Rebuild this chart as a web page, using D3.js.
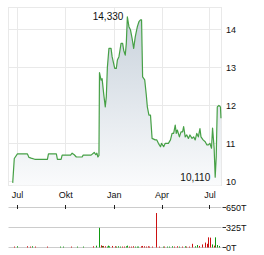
<!DOCTYPE html>
<html><head><meta charset="utf-8">
<script src="https://cdn.jsdelivr.net/npm/d3@7"></script>
<style>
body{margin:0;background:#fff}
svg{display:block}
text{font-family:"Liberation Sans",Arial,sans-serif;fill:#111}
</style></head>
<body><svg id="c" width="264" height="255"></svg>
<script>
const priceDates = ["2023-06-22","2023-06-25","2023-07-01","2023-07-20","2023-07-23","2023-07-27","2023-08-03","2023-08-27","2023-08-29","2023-09-13","2023-09-15","2023-09-22","2023-09-24","2023-10-10","2023-10-13","2023-10-17","2023-10-21","2023-11-01","2023-11-03","2023-11-18","2023-11-24","2023-11-27","2023-11-29","2023-12-01","2023-12-03","2023-12-04","2023-12-07","2023-12-09","2023-12-12","2023-12-15","2023-12-17","2023-12-19","2023-12-22","2023-12-26","2023-12-28","2024-01-02","2024-01-05","2024-01-07","2024-01-10","2024-01-12","2024-01-14","2024-01-17","2024-01-19","2024-01-22","2024-01-24","2024-01-26","2024-01-29","2024-02-01","2024-02-04","2024-02-07","2024-02-10","2024-02-14","2024-02-17","2024-02-20","2024-02-22","2024-02-24","2024-02-28","2024-03-02","2024-03-04","2024-03-07","2024-03-10","2024-03-13","2024-03-19","2024-03-22","2024-03-25","2024-03-29","2024-03-31","2024-04-04","2024-04-07","2024-04-13","2024-04-17","2024-04-20","2024-04-23","2024-04-26","2024-04-28","2024-04-30","2024-05-04","2024-05-07","2024-05-10","2024-05-12","2024-05-15","2024-05-18","2024-05-21","2024-05-24","2024-05-28","2024-05-31","2024-06-03","2024-06-06","2024-06-09","2024-06-12","2024-06-14","2024-06-18","2024-06-22","2024-06-25","2024-06-28","2024-07-01","2024-07-04","2024-07-06","2024-07-09","2024-07-11","2024-07-13","2024-07-14","2024-07-15","2024-07-18","2024-07-21","2024-07-22"];
const priceValues = [9.96,10.60,10.72,10.72,10.63,10.61,10.58,10.58,10.72,10.72,10.58,10.58,10.69,10.69,10.74,10.70,10.64,10.64,10.69,10.69,10.76,10.70,10.74,10.64,10.68,12.86,12.66,12.70,12.30,11.96,12.23,13.00,13.50,13.50,13.28,12.97,12.97,13.19,13.28,13.45,13.63,13.63,13.45,13.32,13.63,14.33,14.07,13.98,13.76,13.50,13.80,14.07,14.20,14.25,14.25,12.75,12.67,12.27,11.96,11.74,11.74,11.13,11.09,11.09,11.00,10.91,11.00,10.91,11.00,11.00,11.09,11.26,11.26,11.48,11.26,11.35,11.17,11.30,11.30,11.44,11.17,11.22,11.13,11.22,11.13,11.17,11.09,11.26,11.17,11.39,11.17,11.09,11.04,10.96,10.96,11.00,10.87,11.40,10.87,10.11,10.65,11.35,11.96,12.00,11.96,11.66];

const volDates = ["2023-06-24","2023-07-01","2023-07-19","2023-07-25","2023-07-29","2023-08-03","2023-08-26","2023-09-19","2023-09-26","2023-10-11","2023-10-23","2023-11-02","2023-11-22","2023-11-28","2023-12-04","2023-12-06","2023-12-08","2023-12-11","2023-12-14","2023-12-18","2023-12-20","2023-12-22","2023-12-27","2024-01-02","2024-01-04","2024-01-09","2024-01-12","2024-01-16","2024-01-19","2024-01-23","2024-01-25","2024-01-30","2024-02-02","2024-02-06","2024-02-09","2024-02-13","2024-02-16","2024-02-21","2024-02-23","2024-02-27","2024-03-01","2024-03-05","2024-03-08","2024-03-12","2024-03-21","2024-03-26","2024-04-02","2024-04-05","2024-04-10","2024-04-15","2024-04-19","2024-04-24","2024-04-29","2024-05-03","2024-05-08","2024-05-14","2024-05-17","2024-05-22","2024-05-28","2024-06-03","2024-06-06","2024-06-11","2024-06-16","2024-06-21","2024-06-25","2024-06-28","2024-07-02","2024-07-05","2024-07-09","2024-07-11","2024-07-14","2024-07-19"];
const volValues = [15,20,20,15,20,15,15,15,15,15,15,15,20,30,320,35,25,25,20,15,30,20,25,20,15,20,15,15,15,20,30,15,15,20,15,15,15,20,25,20,15,20,15,15,560,15,15,15,15,15,20,15,20,15,15,20,15,15,60,20,40,25,50,80,60,165,160,50,30,165,40,25];
const volDir = ["d","u","d","d","u","d","d","u","u","d","u","u","d","u","u","d","u","d","d","u","u","u","d","d","u","u","u","d","d","u","u","d","d","d","u","u","u","d","d","d","d","d","d","d","d","d","u","d","u","u","u","d","d","u","d","u","d","d","d","u","u","d","d","d","d","d","d","u","d","u","u","u"];

const monthTicks = ["2023-07-01","2023-10-01","2024-01-01","2024-04-01","2024-07-01"];
const monthLabels = ["Jul","Okt","Jan","Apr","Jul"];
const priceTicks = [10,11,12,13,14];
const volTicks = [0,325,650];
const volTickLabels = ["0T","325T","650T"];

const parse = d3.timeParse("%Y-%m-%d");
const de = d3.formatLocale({decimal:",",thousands:".",grouping:[3],currency:["","€"]});
const fmt = de.format(".3f");

const svg = d3.select("#c");
const L = 8.5, R = 221.5, T = 7.5, B = 185.5;
const x = d3.scaleTime().domain([parse("2023-06-14"), parse("2024-07-23")]).range([L, R]);
const y = d3.scaleLinear().domain([9.89, 14.574]).range([B, T]);
const vy = d3.scaleLinear().domain([0, 650]).range([247.5, 207.5]);

const data = priceDates.map((d,i)=>({date:parse(d), v:priceValues[i]}));
const vol = volDates.map((d,i)=>({date:parse(d), v:volValues[i], dir:volDir[i]}));

const defs = svg.append("defs");
const g = defs.append("linearGradient").attr("id","fillg").attr("gradientUnits","userSpaceOnUse")
  .attr("x1",0).attr("y1",T).attr("x2",0).attr("y2",B);
g.append("stop").attr("offset","0%").attr("stop-color","#c6d0da");
g.append("stop").attr("offset","100%").attr("stop-color","#fafbfc");

const crisp = v => Math.round(v) + 0.5;

const grid = svg.append("g").attr("stroke","#e9e9e9").attr("stroke-width",1).attr("fill","none");
grid.selectAll(".h").data(priceTicks).enter().append("line")
  .attr("x1",L).attr("x2",R).attr("y1",d=>crisp(y(d)-0.5)).attr("y2",d=>crisp(y(d)-0.5));
grid.selectAll(".v").data(monthTicks).enter().append("line")
  .attr("y1",T).attr("y2",B).attr("x1",d=>crisp(x(parse(d))-0.5)).attr("x2",d=>crisp(x(parse(d))-0.5));
grid.append("rect").attr("x",L).attr("y",T).attr("width",R-L).attr("height",B-T);

const area = d3.area().x(d=>x(d.date)).y0(B).y1(d=>y(d.v));
svg.append("path").datum(data).attr("d",area).attr("fill","url(#fillg)");
const line = d3.line().x(d=>x(d.date)).y(d=>y(d.v));
svg.append("path").datum(data).attr("d",line).attr("fill","none").attr("stroke","#46a046").attr("stroke-width",1.2).attr("stroke-linejoin","round");

// period high / low labels (low taken after the opening print)
const maxD = data.reduce((a,b)=>b.v>a.v?b:a);
const minD = data.slice(1).reduce((a,b)=>b.v<a.v?b:a);
svg.append("text").attr("x",x(maxD.date)-4).attr("y",y(maxD.v)+3.5).attr("text-anchor","end").attr("font-size",10).text(fmt(maxD.v));
svg.append("text").attr("x",x(minD.date)-5).attr("y",y(minD.v)+3.5).attr("text-anchor","end").attr("font-size",10).text(fmt(minD.v));

svg.selectAll(".pl").data(priceTicks).enter().append("text")
  .attr("x",226).attr("y",d=>y(d)+3.3).attr("font-size",9).text(d=>d);

svg.selectAll(".xl").data(monthTicks).enter().append("text")
  .attr("x",d=>x(parse(d))).attr("y",197.5).attr("text-anchor","middle").attr("font-size",9)
  .text((d,i)=>monthLabels[i]);

svg.selectAll(".vg").data(volTicks).enter().append("line")
  .attr("x1",L).attr("x2",R).attr("y1",d=>crisp(vy(d)-0.5)).attr("y2",d=>crisp(vy(d)-0.5))
  .attr("stroke","#cccccc");
svg.selectAll(".vt").data(volTicks).enter().append("line")
  .attr("x1",R+1).attr("x2",R+4.5).attr("y1",d=>crisp(vy(d)-0.5)).attr("y2",d=>crisp(vy(d)-0.5))
  .attr("stroke","#333");
svg.selectAll(".vl").data(volTicks).enter().append("text")
  .attr("x",226).attr("y",d=>vy(d)+3).attr("font-size",9).text((d,i)=>volTickLabels[i]);
svg.selectAll(".xt").data(monthTicks).enter().append("line")
  .attr("x1",d=>crisp(x(parse(d))-0.5)).attr("x2",d=>crisp(x(parse(d))-0.5))
  .attr("y1",205).attr("y2",209).attr("stroke","#222");
svg.selectAll(".vb").data(vol).enter().append("rect")
  .attr("x",d=>Math.round(x(d.date))).attr("width",1)
  .attr("y",d=>vy(d.v)).attr("height",d=>vy(0)-vy(d.v))
  .attr("fill",d=>d.dir==="u"?"#119911":"#cc1111");
</script></body></html>
